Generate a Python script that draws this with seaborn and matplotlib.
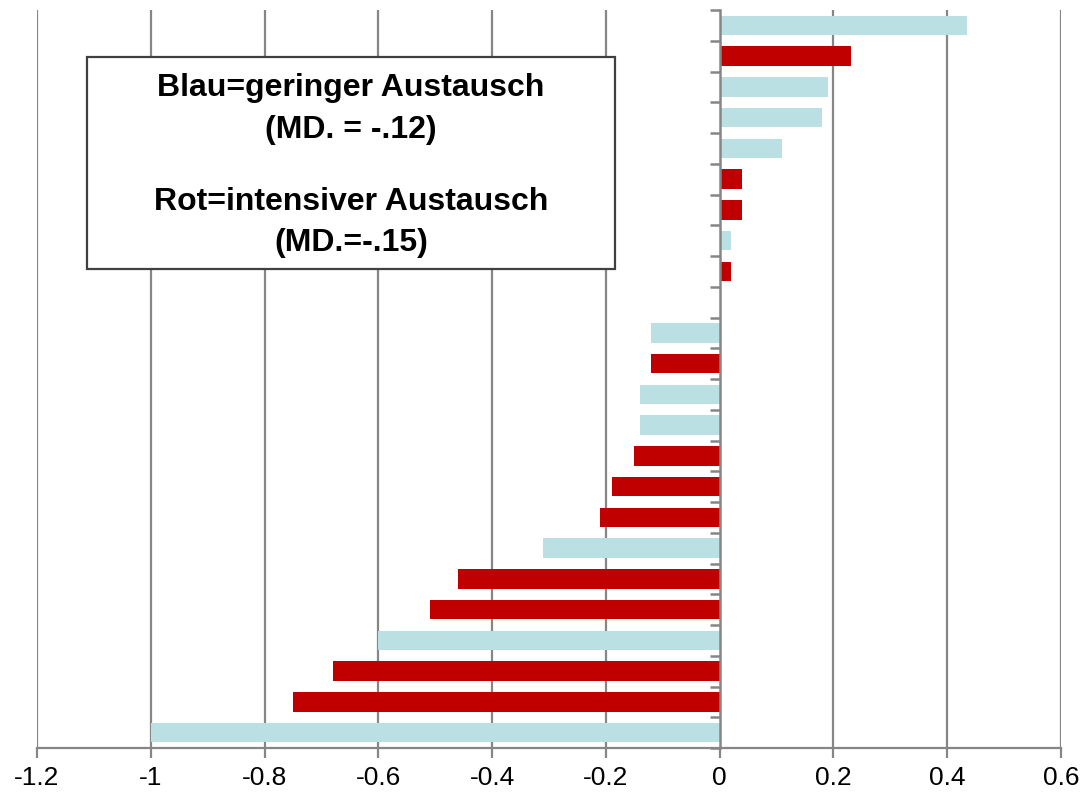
import matplotlib
matplotlib.use("Agg")
import matplotlib.pyplot as plt
import seaborn as sns
import pandas as pd
from matplotlib.patches import Rectangle

sns.set_style("white")
plt.rcParams['font.family'] = ['Liberation Sans', 'DejaVu Sans']
plt.rcParams['text.color'] = 'black'
plt.rcParams['xtick.color'] = 'black'
plt.rcParams['ytick.color'] = 'black'

# data (top to bottom)
slots = [f"s{i}" for i in range(24)]
values = [0.435, 0.23, 0.19, 0.18, 0.11, 0.04, 0.04, 0.02, 0.02, 0.0,
          -0.12, -0.12, -0.14, -0.14, -0.15, -0.19, -0.21, -0.31,
          -0.46, -0.51, -0.60, -0.68, -0.75, -1.0]
groups = ["blau", "rot", "blau", "blau", "blau", "rot", "rot", "blau", "rot", "leer",
          "blau", "rot", "blau", "blau", "rot", "rot", "rot", "blau",
          "rot", "rot", "blau", "rot", "rot", "blau"]
xticks = [-1.2, -1.0, -0.8, -0.6, -0.4, -0.2, 0, 0.2, 0.4, 0.6]
xticklabels = ["-1.2", "-1", "-0.8", "-0.6", "-0.4", "-0.2", "0", "0.2", "0.4", "0.6"]
legend_lines = ["Blau=geringer Austausch", "(MD. = -.12)", "Rot=intensiver Austausch", "(MD.=-.15)"]

df = pd.DataFrame({"slot": slots, "value": values, "group": groups})
palette = {"blau": "#BBE0E3", "rot": "#C00000", "leer": "#FFFFFF"}

fig = plt.figure(figsize=(10.84, 7.95), dpi=100)
ax = fig.add_axes([37/1084, 1-748/795, (1061-37)/1084, (748-10)/795])

sns.barplot(data=df, x="value", y="slot", hue="group", palette=palette,
            dodge=False, legend=False, width=0.63, ax=ax, orient="h",
            saturation=1, linewidth=0)

grid_c = "#868686"
ax.set_xlim(-1.2, 0.6)
ax.set_ylim(23.5, -0.5)
ax.set_xticks(xticks)
ax.set_xticklabels(xticklabels, fontsize=19, color="black")
ax.set_yticks([i - 0.5 for i in range(25)])
ax.set_yticklabels([])
ax.set_xlabel("")
ax.set_ylabel("")

for x in xticks:
    if x != 0:
        ax.axvline(x, color=grid_c, lw=1.6, zorder=0)

for s in ["top", "right"]:
    ax.spines[s].set_visible(False)
ax.spines["left"].set_position(("data", 0))
ax.spines["left"].set_color(grid_c)
ax.spines["left"].set_linewidth(1.8)
ax.spines["left"].set_zorder(3)
ax.spines["bottom"].set_color(grid_c)
ax.spines["bottom"].set_linewidth(1.6)
ax.tick_params(axis="x", bottom=True, direction="out", length=7, width=1.6,
               color=grid_c, labelcolor="black", pad=6)
ax.tick_params(axis="y", left=True, direction="out", length=7, width=1.8, color=grid_c)

# text box
rect = Rectangle((87/1084, 1-269/795), 528/1084, 212/795, transform=fig.transFigure,
                 facecolor="white", edgecolor="#404040", lw=1.6, zorder=5)
fig.patches.append(rect)
ys = [88, 130, 202, 243]
for line, y in zip(legend_lines, ys):
    fig.text(351/1084, 1-y/795, line, ha="center", va="center", fontsize=23,
             fontweight="bold", color="black", zorder=6)

fig.savefig("out.png", dpi=100)
